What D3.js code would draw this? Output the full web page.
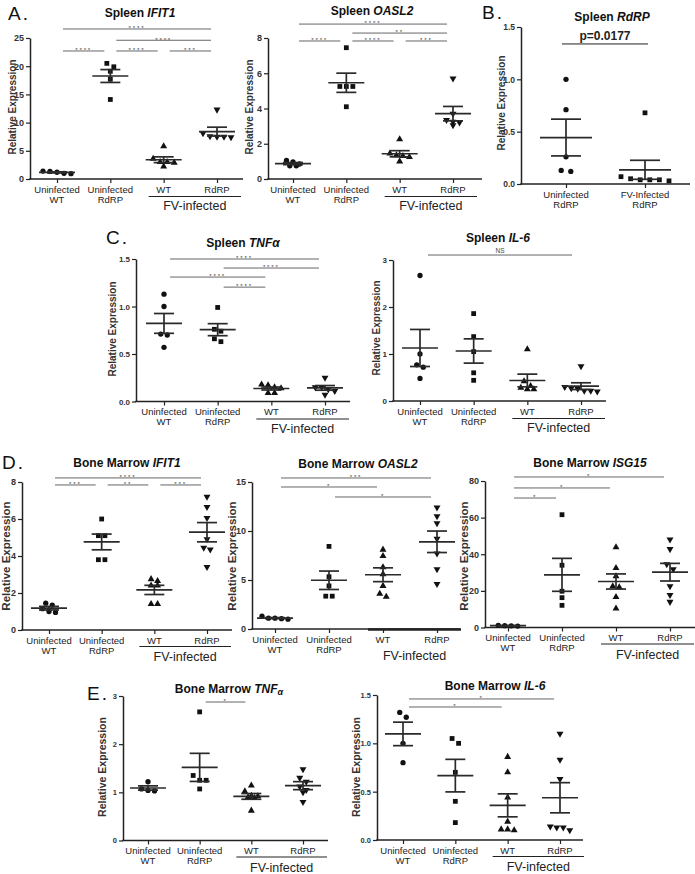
<!DOCTYPE html>
<html><head><meta charset="utf-8">
<script src="https://cdn.jsdelivr.net/npm/d3@7"></script>
<style>
body{margin:0;background:#fff}
svg{display:block}
text{font-family:"Liberation Sans",Arial,Helvetica,sans-serif;white-space:pre}
</style>
</head><body>
<svg id="chart" width="695" height="874"></svg>
<script>
// ---------------- DATA ----------------
const cats4 = ["Uninfected WT", "Uninfected RdRP", "FV-infected WT", "FV-infected RdRP"];
const catLines4 = [["Uninfected", "WT"], ["Uninfected", "RdRP"], ["WT"], ["RdRP"]];
const catsB = ["Uninfected RdRP", "FV-Infected RdRP"];
const catLinesB = [["Uninfected", "RdRP"], ["FV-Infected", "RdRP"]];

const spleenIFIT1 = [[1.35, 1.2, 1.0, 0.95, 1.4], [20.5, 19.9, 19.1, 17.7, 14.1], [5.8, 3.6, 3.0, 2.9, 3.0, 2.2], [12.3, 8.1, 7.5, 7.4, 7.5, 7.6]];
const spleenOASL2 = [[1.05, 0.85, 0.75, 0.75, 0.97], [7.45, 5.25, 5.25, 5.25, 4.1], [2.25, 1.45, 1.3, 1.25, 1.35, 1.0], [5.7, 3.7, 3.35, 3.25, 3.2, 3.05]];
const spleenRdRP = [[1.0, 0.71, 0.26, 0.12, 0.13], [0.68, 0.04, 0.07, 0.04, 0.05, 0.03, 0.04]];
const spleenTNFa = [[1.13, 1.0, 0.71, 0.70, 0.57], [0.99, 0.76, 0.74, 0.66, 0.63], [0.18, 0.17, 0.15, 0.14, 0.09, 0.09], [0.25, 0.15, 0.15, 0.13, 0.11, 0.07]];
const spleenIL6 = [[2.67, 1.0, 0.77, 0.72, 0.48], [1.86, 1.37, 1.05, 0.6, 0.44], [1.1, 0.42, 0.28, 0.25, 0.25, 0.32], [0.74, 0.3, 0.26, 0.22, 0.2, 0.22, 0.27]];
const bmIFIT1 = [[1.45, 1.35, 1.15, 0.95, 1.0], [6.0, 5.1, 5.1, 3.8, 3.8], [2.75, 2.65, 2.4, 2.4, 1.4, 1.4], [7.2, 6.65, 6.05, 4.9, 4.45, 4.35, 3.4]];
const bmOASL2 = [[1.3, 1.1, 1.1, 1.0, 1.05], [8.43, 5.33, 4.4, 3.35, 3.35], [8.1, 7.45, 6.3, 5.6, 4.4, 3.6, 3.3], [12.4, 11.5, 10.8, 9.2, 7.7, 6.1, 4.6]];
const bmISG15 = [[1.2, 0.9, 1.0, 0.8], [61.6, 34, 19.8, 16.3, 12.1], [43.8, 32.5, 28, 22.5, 22, 16.7, 10.4], [48, 42.8, 34.5, 31.8, 22.5, 17.8, 14]];
const bmTNFa = [[1.22, 1.07, 1.04, 1.03], [2.67, 1.35, 1.25, 1.25, 1.07], [1.14, 1.02, 0.93, 0.92, 0.9, 0.88, 0.62], [1.48, 1.3, 1.22, 1.12, 1.05, 1.0, 0.8]];
const bmIL6 = [[1.32, 1.27, 1.0, 0.8], [1.05, 1.0, 0.7, 0.4, 0.18], [0.86, 0.7, 0.44, 0.19, 0.11, 0.11, 0.1], [1.1, 0.83, 0.63, 0.14, 0.13, 0.13, 0.1]];

const ticksSpleenIFIT1 = [0, 5, 10, 15, 20, 25];
const ticksSpleenOASL2 = [0, 2, 4, 6, 8];
const ticksSpleenRdRP = [0, 0.5, 1, 1.5];
const ticksSpleenTNFa = [0, 0.5, 1, 1.5];
const ticksSpleenIL6 = [0, 1, 2, 3];
const ticksBmIFIT1 = [0, 2, 4, 6, 8];
const ticksBmOASL2 = [0, 5, 10, 15];
const ticksBmISG15 = [0, 20, 40, 60, 80];
const ticksBmTNFa = [0, 1, 2, 3];
const ticksBmIL6 = [0, 0.5, 1, 1.5];

// significance comparisons: [group a, group b, label]
const sigSpleenIFIT1 = [[0, 3, "****"], [1, 3, "****"], [0, 1, "****"], [1, 2, "****"], [2, 3, "***"]];
const sigSpleenOASL2 = [[0, 3, "****"], [1, 3, "**"], [0, 1, "****"], [1, 2, "****"], [2, 3, "***"]];
const sigSpleenRdRP = [[0, 1, "p=0.0177"]];
const sigSpleenTNFa = [[0, 3, "****"], [1, 3, "****"], [0, 2, "****"], [1, 2, "****"]];
const sigSpleenIL6 = [[0, 3, "NS"]];
const sigBmIFIT1 = [[0, 3, "****"], [0, 1, "***"], [1, 2, "**"], [2, 3, "***"]];
const sigBmOASL2 = [[0, 3, "***"], [0, 2, "*"], [1, 3, "*"]];
const sigBmISG15 = [[0, 3, "*"], [0, 2, "*"], [0, 1, "*"]];
const sigBmTNFa = [[1, 2, "*"]];
const sigBmIL6 = [[0, 3, "*"], [0, 2, "*"]];

const panelLetters = ["A.", "B.", "C.", "D.", "E."];

// ---------------- LAYOUT ----------------
const FONT = '"Liberation Sans", Arial, Helvetica, sans-serif';
const svg = d3.select("#chart");
const shapeDefs = {
  circle: {type: d3.symbolCircle, size: 22, rot: 0},
  square: {type: d3.symbolSquare, size: 23, rot: 0},
  up: {type: d3.symbolTriangle, size: 21, rot: 0},
  down: {type: d3.symbolTriangle, size: 21, rot: 180}
};
const shapes4 = ["circle", "square", "up", "down"];

const base = {cats: cats4, catLines: catLines4, shapes: shapes4, fmt: "d", tfs: 9, sp: 6.5, rowTol: 5,
  hm: 18, hc: 10, sigPad: [6, 6], fv: true, fvDy: 17.5, ylfs: 10, sigColor: "#666"};

const panels = [
  {data: spleenIFIT1, ticks: ticksSpleenIFIT1, sig: sigSpleenIFIT1, sigY: [26.6, 24.6, 22.7, 22.7, 22.7],
   ax: 30, y0: 179, ytop: 38, ymax: 25, xr: [57, 217], xEnd: 243,
   title: ["Spleen ", "IFIT1"], tx: 140, ty: 17, yl: [12, 107], sp: 7},
  {data: spleenOASL2, ticks: ticksSpleenOASL2, sig: sigSpleenOASL2, sigY: [8.79, 8.28, 7.83, 7.83, 7.83],
   ax: 268, y0: 179, ytop: 38, ymax: 8, xr: [293, 453], xEnd: 482,
   title: ["Spleen ", "OASL2"], tx: 372, ty: 15, yl: [249, 107]},
  {data: spleenRdRP, cats: catsB, catLines: catLinesB, shapes: ["circle", "square"], ticks: ticksSpleenRdRP,
   sig: sigSpleenRdRP, sigY: [1.338], sigPad: [-4, -3], sigColor: "#222",
   ax: 521, y0: 184, ytop: 27, ymax: 1.5, xr: [566, 645], xEnd: 690, fmt: ".1f", fv: false,
   title: ["Spleen ", "RdRP"], tx: 612, ty: 21, yl: [501, 103], sp: 9.6, hm: 26, hc: 15, tfs: 8.5},
  {data: spleenTNFa, ticks: ticksSpleenTNFa, sig: sigSpleenTNFa, sigY: [1.5, 1.405, 1.31, 1.204],
   ax: 136, y0: 401.5, ytop: 259, ymax: 1.5, xr: [164, 325], xEnd: 350, fmt: ".1f", tfs: 8,
   title: ["Spleen ", "TNFα"], tx: 243, ty: 247, yl: [112, 329]},
  {data: spleenIL6, ticks: ticksSpleenIL6, sig: sigSpleenIL6, sigY: [3.106], sigPad: [8, 9],
   ax: 393, y0: 401, ytop: 260, ymax: 3, xr: [420, 581], xEnd: 606, tfs: 8,
   title: ["Spleen ", "IL-6"], tx: 498, ty: 242, yl: [376, 328]},
  {data: bmIFIT1, ticks: ticksBmIFIT1, sig: sigBmIFIT1, sigY: [8.22, 7.84, 7.84, 7.84],
   ax: 22, y0: 630, ytop: 482, ymax: 8, xr: [49, 207], xEnd: 232, fvDy: 16.5,
   title: ["Bone Marrow ", "IFIT1"], tx: 127, ty: 467, yl: [6, 556], ylfs: 11.5},
  {data: bmOASL2, ticks: ticksBmOASL2, sig: sigBmOASL2, sigY: [15.41, 14.49, 13.47],
   ax: 252, y0: 629, ytop: 482, ymax: 15, xr: [275, 437], xEnd: 460, fvDy: 0.5,
   title: ["Bone Marrow ", "OASL2"], tx: 358, ty: 468, yl: [232, 556], ylfs: 11.5},
  {data: bmISG15, ticks: ticksBmISG15, sig: sigBmISG15, sigY: [82.2, 76.2, 70.7],
   ax: 485, y0: 627.5, ytop: 481, ymax: 80, xr: [508, 670], xEnd: 695, fvDy: 16.5,
   title: ["Bone Marrow ", "ISG15"], tx: 590, ty: 467, yl: [464, 556], ylfs: 11.5},
  {data: bmTNFa, ticks: ticksBmTNFa, sig: sigBmTNFa, sigY: [2.875],
   ax: 123, y0: 840.5, ytop: 696, ymax: 3, xr: [148, 303], xEnd: 328, tfs: 7.5, fvDy: 16.5,
   title: ["Bone Marrow ", "TNF", "α"], tx: 229, ty: 693, yl: [102, 767], ylfs: 10.5},
  {data: bmIL6, ticks: ticksBmIL6, sig: sigBmIL6, sigY: [1.459, 1.376],
   ax: 377, y0: 840, ytop: 695, ymax: 1.5, xr: [403, 560], xEnd: 583, fmt: ".1f", tfs: 7.5, fvDy: 16.5,
   title: ["Bone Marrow ", "IL-6"], tx: 495, ty: 690, yl: [356, 767], ylfs: 10.5}
].map(p => Object.assign({}, base, p));

const letterPos = [[8, 20], [482, 19], [106, 244], [2, 469], [87, 700]];

function drawPanel(p) {
  const g = svg.append("g");
  const y = d3.scaleLinear().domain([0, p.ymax]).range([p.y0, p.ytop]);
  const x = d3.scalePoint().domain(p.cats).range(p.xr);

  // y axis
  const ya = g.append("g").attr("transform", `translate(${p.ax},0)`)
    .call(d3.axisLeft(y).tickValues(p.ticks).tickSizeInner(4).tickSizeOuter(0).tickPadding(2)
      .tickFormat(d3.format(p.fmt)));
  ya.select(".domain").attr("stroke", "#222").attr("stroke-width", 1.5);
  ya.selectAll(".tick line").attr("stroke", "#222").attr("stroke-width", 1.2);
  ya.selectAll(".tick text").attr("font-family", FONT).attr("font-size", p.tfs)
    .attr("font-weight", "bold").attr("fill", "#333");

  // x axis
  const xa = g.append("g").attr("transform", `translate(0,${p.y0})`)
    .call(d3.axisBottom(x).tickSizeInner(4).tickSizeOuter(0).tickFormat(""));
  xa.select(".domain").remove();
  xa.selectAll(".tick line").attr("stroke", "#222").attr("stroke-width", 1.2);
  g.append("line").attr("x1", p.ax - 0.75).attr("x2", p.xEnd).attr("y1", p.y0).attr("y2", p.y0)
    .attr("stroke", "#222").attr("stroke-width", 1.5);

  // category labels
  p.catLines.forEach((lines, i) => {
    const cx = x(p.cats[i]);
    const t = g.append("text").attr("x", cx).attr("y", p.y0 + 13.5).attr("text-anchor", "middle")
      .attr("font-size", 9.5).attr("fill", "#222");
    lines.forEach((s, k) => t.append("tspan").attr("x", cx).attr("dy", k ? 10 : 0).text(s));
  });

  // FV-infected bracket
  if (p.fv) {
    const bx1 = x(p.cats[2]) - 15, bx2 = x(p.cats[3]) + 24;
    g.append("line").attr("x1", bx1).attr("x2", bx2).attr("y1", p.y0 + p.fvDy).attr("y2", p.y0 + p.fvDy)
      .attr("stroke", "#222").attr("stroke-width", p.fvDy < 2 ? 2.4 : 1.2);
    g.append("text").attr("x", (bx1 + bx2) / 2).attr("y", p.y0 + 31).attr("text-anchor", "middle")
      .attr("font-size", 12.5).attr("fill", "#222").text("FV-infected");
  }

  // points, mean and SEM
  p.data.forEach((vals, i) => {
    const cx = x(p.cats[i]);
    const pts = vals.map(v => ({v, py: y(v)})).sort((a, b) => a.py - b.py);
    const rows = [];
    let cur = null;
    pts.forEach(pt => {
      if (cur && pt.py - cur[0].py < p.rowTol) cur.push(pt);
      else { cur = [pt]; rows.push(cur); }
    });
    rows.forEach(r => r.forEach((pt, k) => pt.px = cx + (k - (r.length - 1) / 2) * p.sp));
    const sd = shapeDefs[p.shapes[i]];
    const sym = d3.symbol().type(sd.type).size(sd.size);
    g.append("g").selectAll("path").data(pts).enter().append("path")
      .attr("d", sym)
      .attr("transform", d => `translate(${d.px},${d.py}) rotate(${sd.rot})`)
      .attr("fill", "#111");

    const m = d3.mean(vals);
    const se = d3.deviation(vals) / Math.sqrt(vals.length);
    const lg = g.append("g").attr("stroke", "#2a2a2a").attr("stroke-width", 1.7).attr("fill", "none");
    lg.append("line").attr("x1", cx - p.hm).attr("x2", cx + p.hm).attr("y1", y(m)).attr("y2", y(m));
    lg.append("line").attr("x1", cx).attr("x2", cx).attr("y1", y(m - se)).attr("y2", y(m + se));
    lg.append("line").attr("x1", cx - p.hc).attr("x2", cx + p.hc).attr("y1", y(m + se)).attr("y2", y(m + se));
    lg.append("line").attr("x1", cx - p.hc).attr("x2", cx + p.hc).attr("y1", y(m - se)).attr("y2", y(m - se));
  });

  // significance bars
  p.sig.forEach((s, j) => {
    const yy = y(p.sigY[j]);
    const x1 = x(p.cats[s[0]]) + p.sigPad[0], x2 = x(p.cats[s[1]]) - p.sigPad[1];
    g.append("line").attr("x1", x1).attr("x2", x2).attr("y1", yy).attr("y2", yy)
      .attr("stroke", p.sigColor).attr("stroke-width", 1);
    const lbl = s[2];
    const t = g.append("text").attr("x", (x1 + x2) / 2).attr("text-anchor", "middle").text(lbl);
    if (lbl.startsWith("p=")) {
      t.attr("y", yy - 4).attr("font-size", 12).attr("font-weight", "bold").attr("fill", "#222");
    } else if (lbl === "NS") {
      t.attr("y", yy - 2).attr("font-size", 6.5).attr("fill", "#444");
    } else {
      t.attr("y", yy + 1.3).attr("font-size", 6.2).attr("letter-spacing", 1.8).attr("fill", "#444");
    }
  });

  // title
  const tt = g.append("text").attr("x", p.tx).attr("y", p.ty).attr("text-anchor", "middle")
    .attr("font-size", 12).attr("font-weight", "bold").attr("fill", "#111");
  tt.append("tspan").text(p.title[0]);
  tt.append("tspan").attr("font-style", "italic").text(p.title[1]);
  if (p.title[2]) {
    tt.append("tspan").attr("font-style", "italic").attr("font-size", 9).attr("dy", 2).text(p.title[2]);
  }

  // y label
  g.append("text").attr("transform", `translate(${p.yl[0]},${p.yl[1]}) rotate(-90)`)
    .attr("text-anchor", "middle").attr("dy", "0.35em")
    .attr("font-size", p.ylfs).attr("font-weight", "bold").attr("fill", "#333")
    .text("Relative Expression");
}

panels.forEach(drawPanel);

panelLetters.forEach((L, i) => {
  svg.append("text").attr("x", letterPos[i][0]).attr("y", letterPos[i][1])
    .attr("font-size", 19).attr("letter-spacing", 2).attr("fill", "#111").text(L);
});
</script>
</body></html>
